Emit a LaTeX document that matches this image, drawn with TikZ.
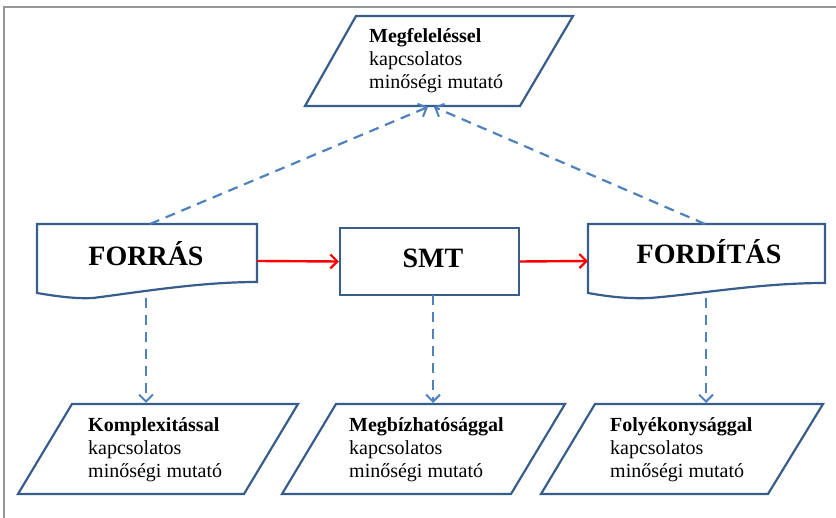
\documentclass[tikz,border=0pt]{standalone}
\usepackage{fontspec}
\setmainfont{Liberation Serif}
\usetikzlibrary{arrows.meta}
\definecolor{outl}{RGB}{56,93,138}
\definecolor{conn}{RGB}{79,129,189}
\definecolor{framec}{RGB}{150,150,150}
\begin{document}
\begin{tikzpicture}[x=1pt,y=-1pt,
  shapeline/.style={draw=outl, line width=2.2pt, line join=miter},
  dconn/.style={draw=conn, line width=2.2pt, dash pattern=on 10pt off 7pt,
    -{Straight Barb[length=7pt,width=14pt,line width=2pt]}},
  rconn/.style={draw=red, line width=2.4pt,
    -{Straight Barb[length=7pt,width=14pt,line width=2.2pt]}},
  big/.style={font=\fontsize{28}{32}\selectfont\bfseries, anchor=base, inner sep=0pt},
  small/.style={font=\fontsize{20}{23}\selectfont, align=left, anchor=base west, inner sep=0pt}]
\useasboundingbox (0,0) rectangle (836,518);
% frame
\draw[framec, line width=1.5pt] (4,518) -- (4,7) -- (836,7);

% top parallelogram
\draw[shapeline] (356,16) -- (573,16) -- (520,106) -- (305,106) -- cycle;
\node[small] (tq) at (369,89) {\textbf{Megfeleléssel}\\kapcsolatos\\minőségi mutató};
\coordinate (tqL) at (428,107);
\coordinate (tqR) at (434,107);

% FORRAS document
\draw[shapeline] (37,224) -- (257,224) -- (257,282)
  .. controls (200,282) and (140,292) .. (93,298)
  .. controls (75,299) and (55,296) .. (37,293) -- cycle;
\node[big] (forras) at (146,266) {FORRÁS};
\coordinate (forrasTop) at (150,224);
\coordinate (forrasBot) at (146,298);
\coordinate (forrasE) at (257,261);

% SMT
\node[draw=outl, line width=2.2pt, minimum width=179pt, minimum height=67pt, inner sep=0pt] (smt) at (429.5,261.5) {};
\node[big] (smtlabel) at (433,268) {SMT};
\coordinate (smtBot) at (433,295);

% FORDITAS document
\draw[shapeline] (588,224) -- (825,224) -- (825,283)
  .. controls (760,283) and (700,294) .. (650,298)
  .. controls (625,299) and (605,296) .. (588,293) -- cycle;
\node[big] (ford) at (709,264) {FORDÍTÁS};
\coordinate (fordTop) at (705,224);
\coordinate (fordBot) at (706,298);
\coordinate (fordW) at (588,261);

% bottom parallelograms
\draw[shapeline] (72,404) -- (298,404) -- (244,494) -- (18,494) -- cycle;
\node[small] (b1) at (88,478) {\textbf{Komplexitással}\\kapcsolatos\\minőségi mutató};
\coordinate (b1Top) at (146,403);

\draw[shapeline] (336,404) -- (565,404) -- (511,494) -- (282,494) -- cycle;
\node[small] (b2) at (349,478) {\textbf{Megbízhatósággal}\\kapcsolatos\\minőségi mutató};
\coordinate (b2Top) at (433,403);

\draw[shapeline] (595,404) -- (823,404) -- (768,494) -- (541,494) -- cycle;
\node[small] (b3) at (610,478) {\textbf{Folyékonysággal}\\kapcsolatos\\minőségi mutató};
\coordinate (b3Top) at (706,403);

% connectors
\draw[rconn] (forrasE) -- (smt.west);
\draw[rconn] (smt.east) -- (fordW);
\draw[dconn] (forrasTop) -- (tqL);
\draw[dconn] (fordTop) -- (tqR);
\draw[dconn] (forrasBot) -- (b1Top);
\draw[dconn] (smtBot) -- (b2Top);
\draw[dconn] (fordBot) -- (b3Top);
\end{tikzpicture}
\end{document}
